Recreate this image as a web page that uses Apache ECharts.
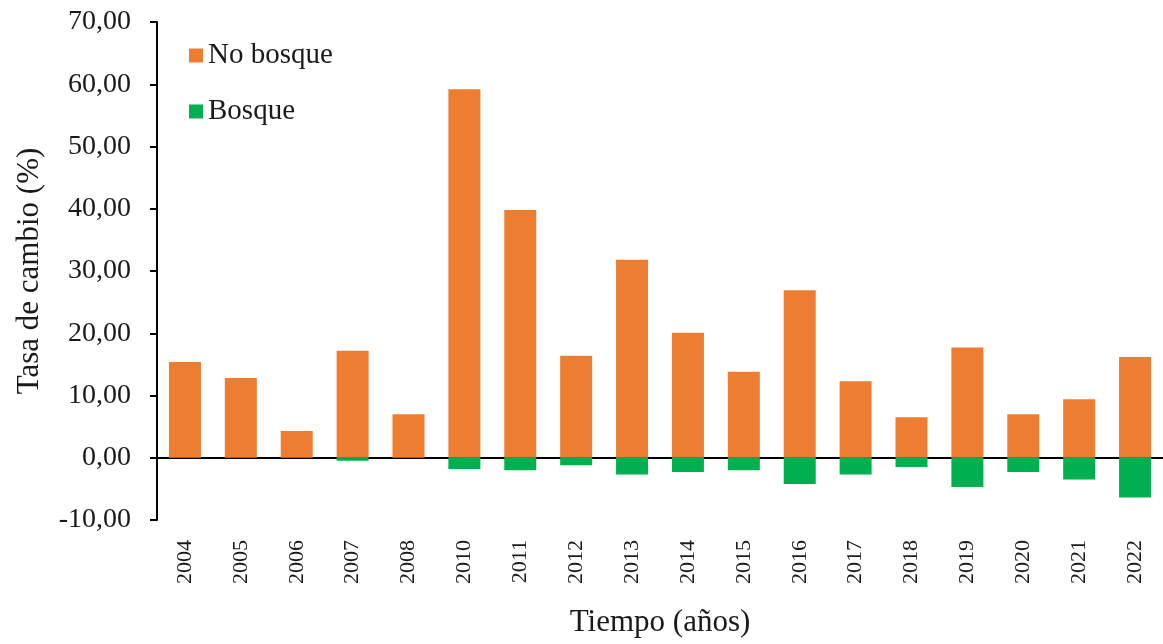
<!DOCTYPE html>
<html>
<head>
<meta charset="utf-8">
<script src="https://cdn.jsdelivr.net/npm/echarts@6/dist/echarts.min.js"></script>
<style>
  html, body { margin: 0; padding: 0; background: #fff; }
  #chart { width: 1163px; height: 644px; }
</style>
</head>
<body>
<div id="chart"></div>
<script>
const years = ['2004','2005','2006','2007','2008','2010','2011','2012','2013','2014','2015','2016','2017','2018','2019','2020','2021','2022'];
const noBosque = [15.4, 12.8, 4.3, 17.2, 7.0, 59.2, 39.8, 16.4, 31.8, 20.1, 13.8, 26.9, 12.3, 6.5, 17.7, 7.0, 9.4, 16.2];
const bosque = [0, 0, 0, -0.5, 0, -1.8, -2.0, -1.2, -2.7, -2.3, -2.0, -4.2, -2.7, -1.5, -4.7, -2.3, -3.5, -6.4];
const yMin = -10, yMax = 70, yStep = 10;

const FONT = '"Liberation Serif", "Times New Roman", serif';
const chart = echarts.init(document.getElementById('chart'));
chart.setOption({
  animation: false,
  backgroundColor: '#ffffff',
  textStyle: { fontFamily: FONT },
  grid: { left: 157, right: 0, top: 22, bottom: 124, containLabel: false },
  legend: {
    orient: 'vertical',
    left: 184,
    top: 35,
    itemWidth: 14,
    itemHeight: 14,
    itemGap: 25,
    icon: 'rect',
    textStyle: { fontFamily: FONT, fontSize: 29, color: '#1a1a1a', lineHeight: 31 },
    data: ['No bosque', 'Bosque']
  },
  xAxis: [
    {
      type: 'category',
      data: years,
      position: 'bottom',
      axisLine: { onZero: true, lineStyle: { color: '#000', width: 2 } },
      axisTick: { show: false },
      axisLabel: { show: false },
      splitLine: { show: false }
    },
    {
      type: 'category',
      data: years,
      position: 'bottom',
      axisLine: { show: false, onZero: false },
      axisTick: { show: false },
      axisLabel: {
        rotate: 90,
        margin: 20,
        fontFamily: FONT,
        fontSize: 22,
        color: '#1a1a1a'
      },
      name: 'Tiempo (años)',
      nameLocation: 'middle',
      nameGap: 87,
      nameTextStyle: { fontFamily: FONT, fontSize: 31, color: '#1a1a1a' },
      splitLine: { show: false }
    }
  ],
  yAxis: {
    type: 'value',
    min: yMin,
    max: yMax,
    interval: yStep,
    axisLine: { show: true, lineStyle: { color: '#000', width: 2 } },
    axisTick: { show: true, length: 7, lineStyle: { color: '#000', width: 2 } },
    splitLine: { show: false },
    axisLabel: {
      margin: 26,
      fontFamily: FONT,
      fontSize: 28,
      color: '#1a1a1a',
      formatter: v => v.toFixed(2).replace('.', ',')
    },
    name: 'Tasa de cambio (%)',
    nameLocation: 'middle',
    nameGap: 112,
    nameTextStyle: { fontFamily: FONT, fontSize: 31, color: '#1a1a1a' }
  },
  series: [
    {
      name: 'No bosque',
      type: 'bar',
      stack: 'total',
      xAxisIndex: 0,
      barWidth: 32,
      itemStyle: { color: '#ED7D31' },
      data: noBosque
    },
    {
      name: 'Bosque',
      type: 'bar',
      stack: 'total',
      xAxisIndex: 0,
      barWidth: 32,
      itemStyle: { color: '#00B050' },
      data: bosque
    }
  ]
});
</script>
</body>
</html>
